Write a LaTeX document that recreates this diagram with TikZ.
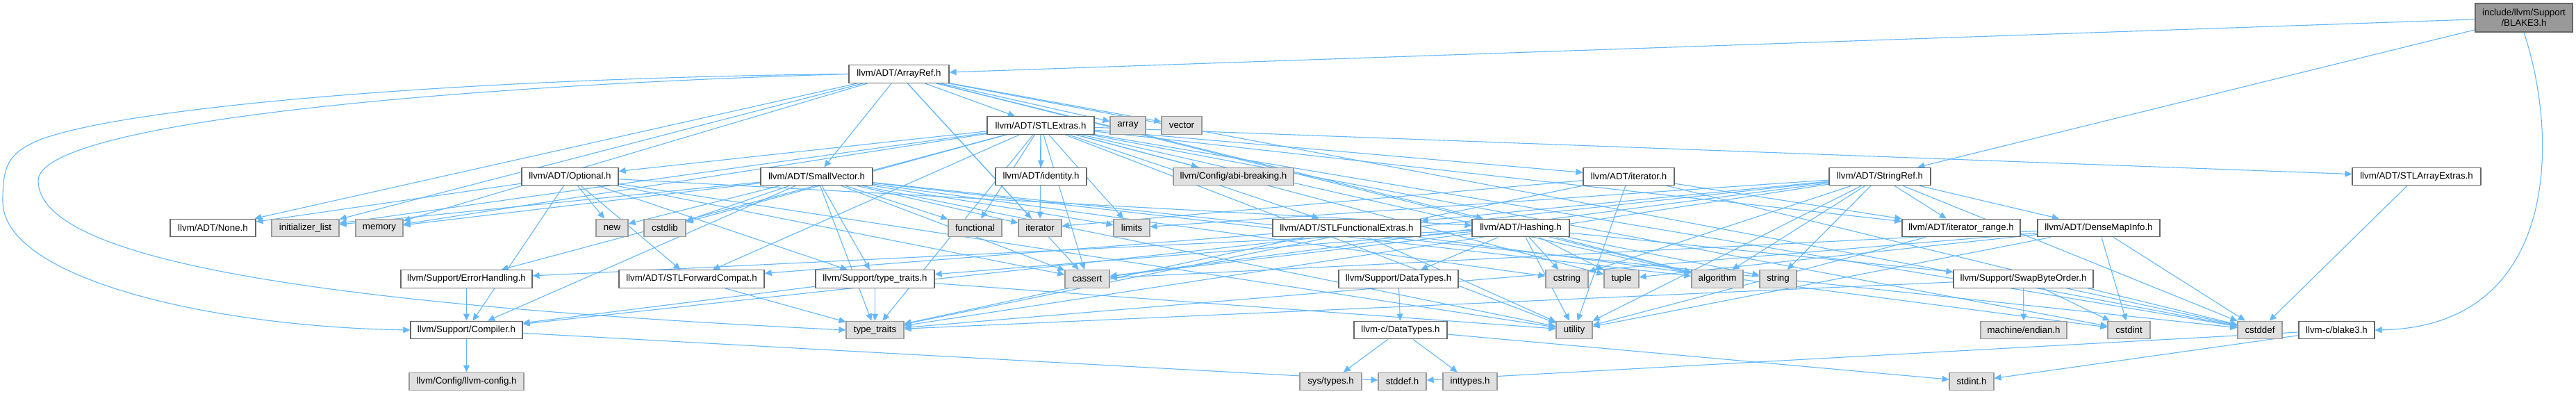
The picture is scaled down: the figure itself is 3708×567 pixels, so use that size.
\documentclass[tikz,border=0pt]{standalone}
\usepackage{fontspec}
\setmainfont{Liberation Sans}
\usetikzlibrary{arrows.meta}
\pgfdeclarelayer{bg}
\pgfdeclarelayer{edges}
\pgfsetlayers{bg,edges,main}
\definecolor{edgec}{HTML}{63B8FF}
\definecolor{bordA}{HTML}{666666}
\definecolor{bordB}{HTML}{999999}
\definecolor{fillB}{HTML}{E0E0E0}
\definecolor{rootf}{HTML}{999999}
\tikzset{
  box/.style={draw=bordA, fill=white, line width=1.2pt, minimum height=25.7pt, inner sep=0pt,
    font=\fontsize{13.3pt}{15pt}\selectfont, anchor=center},
  ext/.style={box, draw=bordB, fill=fillB},
  rootbox/.style={box, draw=bordA, fill=rootf, minimum height=41pt, align=center},
  edge/.style={draw=edgec, line width=1.1pt, -{Triangle[length=10pt,width=9pt]}},
}
\begin{document}
\begin{tikzpicture}[x=1pt,y=-1pt]
\begin{pgfonlayer}{bg}
\fill[white] (0,0) rectangle (3708,567);
\end{pgfonlayer}
\useasboundingbox (0,0) rectangle (3708,567);
% Row A
\node[rootbox, minimum width=140pt] (nRoot) at (3633,25.5) {include/llvm/Support\\/BLAKE3.h};
% Row B
\node[box, minimum width=144pt] (nArrayRef) at (1294,106.5) {llvm/ADT/ArrayRef.h};
% Row C
\node[box, minimum width=154pt] (nSTLExtras) at (1498,180.5) {llvm/ADT/STLExtras.h};
\node[ext, minimum width=51pt] (nArray) at (1623.5,180.5) {array};
\node[ext, minimum width=58pt] (nVector) at (1701,180.5) {vector};
% Row D
\node[box, minimum width=139pt] (nOptional) at (820.5,254) {llvm/ADT/Optional.h};
\node[box, minimum width=161pt] (nSmallVector) at (1175.5,254) {llvm/ADT/SmallVector.h};
\node[box, minimum width=131pt] (nIdentity) at (1498.5,254) {llvm/ADT/identity.h};
\node[ext, minimum width=173pt] (nAbi) at (1775.5,254) {llvm/Config/abi-breaking.h};
\node[box, minimum width=131pt] (nIterH) at (2344.5,254) {llvm/ADT/iterator.h};
\node[box, minimum width=146pt] (nStringRef) at (2706,254) {llvm/ADT/StringRef.h};
\node[box, minimum width=185pt] (nSTLArrayExtras) at (3478.5,254) {llvm/ADT/STLArrayExtras.h};
% Row E
\node[box, minimum width=123pt] (nNone) at (306.5,328) {llvm/ADT/None.h};
\node[ext, minimum width=97pt] (nInitList) at (439.5,328) {initializer\_list};
\node[ext, minimum width=68pt] (nMemory) at (546,328) {memory};
\node[ext, minimum width=46pt] (nNew) at (881,328) {new};
\node[ext, minimum width=60pt] (nCstdlib) at (957,328) {cstdlib};
\node[ext, minimum width=77pt] (nFunctional) at (1403.5,328) {functional};
\node[ext, minimum width=62pt] (nIterator) at (1497,328) {iterator};
\node[ext, minimum width=52pt] (nLimits) at (1629,328) {limits};
\node[box, minimum width=213pt] (nSTLFunc) at (1938.5,328) {llvm/ADT/STLFunctionalExtras.h};
\node[box, minimum width=140pt] (nHashing) at (2189,328) {llvm/ADT/Hashing.h};
\node[box, minimum width=170pt] (nIterRange) at (2823,328) {llvm/ADT/iterator\_range.h};
\node[box, minimum width=176pt] (nDenseMap) at (3021,328) {llvm/ADT/DenseMapInfo.h};
% Row F
\node[box, minimum width=189pt] (nErrorH) at (671.5,401.5) {llvm/Support/ErrorHandling.h};
\node[box, minimum width=209pt] (nSTLFwd) at (995.5,401.5) {llvm/ADT/STLForwardCompat.h};
\node[box, minimum width=171pt] (nSupTT) at (1259.5,401.5) {llvm/Support/type\_traits.h};
\node[ext, minimum width=64pt] (nCassert) at (1565,401.5) {cassert};
\node[box, minimum width=172pt] (nSupDT) at (2013,401.5) {llvm/Support/DataTypes.h};
\node[ext, minimum width=61pt] (nCstring) at (2255.5,401.5) {cstring};
\node[ext, minimum width=50pt] (nTuple) at (2334,401.5) {tuple};
\node[ext, minimum width=74pt] (nAlgorithm) at (2472,401.5) {algorithm};
\node[ext, minimum width=53pt] (nString) at (2559.5,401.5) {string};
\node[box, minimum width=201pt] (nSwap) at (2912.5,401.5) {llvm/Support/SwapByteOrder.h};
% Row G
\node[box, minimum width=161pt] (nCompiler) at (671.5,475) {llvm/Support/Compiler.h};
\node[ext, minimum width=83pt] (nTypeTraits) at (1259.5,475) {type\_traits};
\node[box, minimum width=134pt] (nCDT) at (2016,475) {llvm-c/DataTypes.h};
\node[ext, minimum width=52pt] (nUtility) at (2266,475) {utility};
\node[ext, minimum width=124pt] (nEndian) at (2913,475) {machine/endian.h};
\node[ext, minimum width=61pt] (nCstdint) at (3064.5,475) {cstdint};
\node[ext, minimum width=64pt] (nCstddef) at (3253,475) {cstddef};
\node[box, minimum width=109pt] (nBlake) at (3363.5,475) {llvm-c/blake3.h};
% Row H
\node[ext, minimum width=165pt] (nConfig) at (671.5,549) {llvm/Config/llvm-config.h};
\node[ext, minimum width=89pt] (nSysTypes) at (1915.5,549) {sys/types.h};
\node[ext, minimum width=69pt] (nStddef) at (2018.5,549) {stddef.h};
\node[ext, minimum width=78pt] (nInttypes) at (2116,549) {inttypes.h};
\node[ext, minimum width=64pt] (nStdint) at (2838,549) {stdint.h};

\begin{pgfonlayer}{edges}
\foreach \a/\b in {
 nRoot/nArrayRef, nRoot/nStringRef,
 nBlake/nStddef, nBlake/nStdint,
 nArrayRef/nHashing, nArrayRef/nNone, nArrayRef/nSTLExtras, nArrayRef/nSmallVector,
 nArrayRef/nAlgorithm, nArrayRef/nArray, nArrayRef/nCassert, nArrayRef/nCstddef,
 nArrayRef/nInitList, nArrayRef/nIterator, nArrayRef/nMemory, nArrayRef/nVector,
 nSTLExtras/nOptional, nSTLExtras/nSTLArrayExtras, nSTLExtras/nSTLFwd, nSTLExtras/nSTLFunc,
 nSTLExtras/nIdentity, nSTLExtras/nIterH, nSTLExtras/nIterRange, nSTLExtras/nAbi,
 nSTLExtras/nErrorH, nSTLExtras/nAlgorithm, nSTLExtras/nCassert, nSTLExtras/nCstddef,
 nSTLExtras/nCstdint, nSTLExtras/nCstdlib, nSTLExtras/nFunctional, nSTLExtras/nInitList,
 nSTLExtras/nIterator, nSTLExtras/nLimits, nSTLExtras/nMemory, nSTLExtras/nTuple,
 nSTLExtras/nTypeTraits, nSTLExtras/nUtility,
 nOptional/nHashing, nOptional/nNone, nOptional/nSTLFwd, nOptional/nCompiler,
 nOptional/nSupTT, nOptional/nCassert, nOptional/nNew, nOptional/nUtility,
 nSmallVector/nCompiler, nSmallVector/nSupTT, nSmallVector/nAlgorithm, nSmallVector/nCassert,
 nSmallVector/nCstddef, nSmallVector/nCstdlib, nSmallVector/nCstring, nSmallVector/nFunctional,
 nSmallVector/nInitList, nSmallVector/nIterator, nSmallVector/nLimits, nSmallVector/nMemory,
 nSmallVector/nNew, nSmallVector/nTypeTraits, nSmallVector/nUtility,
 nIterH/nIterRange, nIterH/nCstddef, nIterH/nIterator, nIterH/nTypeTraits, nIterH/nUtility,
 nStringRef/nDenseMap, nStringRef/nSTLFunc, nStringRef/nIterRange, nStringRef/nCompiler,
 nStringRef/nAlgorithm, nStringRef/nCassert, nStringRef/nCstddef, nStringRef/nCstring,
 nStringRef/nLimits, nStringRef/nString, nStringRef/nTypeTraits, nStringRef/nUtility,
 nSTLArrayExtras/nCstddef,
 nSTLFunc/nSTLFwd, nSTLFunc/nCstdint, nSTLFunc/nTypeTraits, nSTLFunc/nUtility,
 nHashing/nSupDT, nHashing/nErrorH, nHashing/nSwap, nHashing/nSupTT, nHashing/nAlgorithm,
 nHashing/nCassert, nHashing/nCstring, nHashing/nString, nHashing/nTuple, nHashing/nUtility,
 nIterRange/nUtility,
 nDenseMap/nCassert, nDenseMap/nCstddef, nDenseMap/nCstdint, nDenseMap/nTuple,
 nDenseMap/nTypeTraits, nDenseMap/nUtility,
 nErrorH/nCompiler, nSTLFwd/nTypeTraits,
 nSupTT/nCompiler, nSupTT/nTypeTraits, nSupTT/nUtility,
 nSupDT/nCDT,
 nSwap/nEndian, nSwap/nCstddef, nSwap/nCstdint, nSwap/nTypeTraits,
 nCompiler/nConfig, nCompiler/nStddef,
 nCDT/nInttypes, nCDT/nSysTypes, nCDT/nStdint}
 { \draw[edge] (\a) -- (\b); }
% long loops round the left side
\draw[edge] (nArrayRef.west) .. controls (700,112) and (200,150) .. (60,200)
   .. controls (10,220) and (4,240) .. (4,290)
   .. controls (4,400) and (300,470) .. (nCompiler.west);
\draw[edge] (nArrayRef.west) .. controls (600,125) and (55,180) .. (55,260)
   .. controls (55,380) and (500,440) .. (nTypeTraits.west);
% root down to llvm-c/blake3.h
\draw[edge] (nRoot.south) .. controls (3684,200) and (3684,470) .. (nBlake.east);
\end{pgfonlayer}
\end{tikzpicture}
\end{document}
